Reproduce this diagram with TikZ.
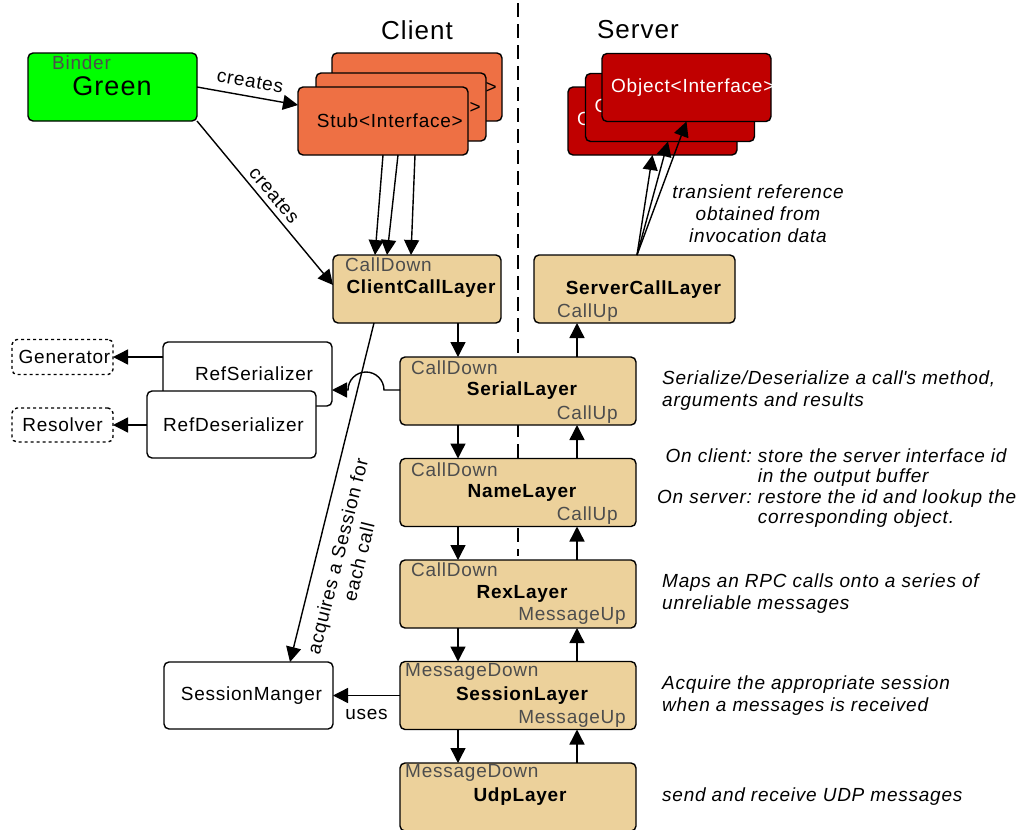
\documentclass[tikz,border=0pt]{standalone}
\usepackage{fontspec}
\setmainfont{Liberation Sans}[LetterSpace=4]
\usetikzlibrary{arrows.meta,positioning}

\definecolor{layertan}{RGB}{236,209,155}
\definecolor{stuborange}{RGB}{238,112,68}
\definecolor{objred}{RGB}{192,0,0}
\definecolor{portgray}{RGB}{77,77,77}
\definecolor{bindergreen}{RGB}{0,255,0}

\begin{document}
\begin{tikzpicture}[x=1pt,y=1pt,
    box/.style={draw,line width=1.4pt,rounded corners=5pt,inner sep=0pt,outer sep=0pt,minimum height=68pt},
    layer/.style={box,fill=layertan,minimum width=236pt},
    stub/.style={box,fill=stuborange,minimum width=170pt},
    obj/.style={box,fill=objred,minimum width=169pt},
    plainbox/.style={box,fill=white,minimum width=169pt,font=\fontsize{19}{22}\selectfont},
    helper/.style={box,dashed,fill=white,minimum width=101pt,minimum height=35pt,font=\fontsize{19}{22}\selectfont},
    port/.style={text=portgray,font=\fontsize{19}{22}\selectfont,inner sep=0pt},
    lname/.style={font=\fontsize{19}{22}\selectfont\bfseries,inner sep=0pt},
    txt/.style={font=\fontsize{19}{22}\selectfont,inner sep=0pt},
    title/.style={font=\fontsize{26}{30}\selectfont,inner sep=0pt},
    desc/.style={font=\fontsize{19}{22}\selectfont\itshape,align=left,inner sep=0pt},
    arr/.style={line width=1.4pt,-{Triangle[length=15pt,width=15pt]}},
    node distance=33.5pt,
  ]

    \useasboundingbox (0,0) rectangle (1021,-830);

    \draw[line width=1.4pt,dash pattern=on 14pt off 7pt] (518,-3) -- (518,-556);

    \node[title] (client) at (417,-30) {Client};
    \node[title] (server) at (638,-30) {Server};

    \node[box,fill=bindergreen,minimum width=169pt] (green) at (112.5,-87) {};
    \node[port,anchor=west] (binder) at (52,-63) {Binder};
    \node[title,font=\fontsize{27}{30}\selectfont] (greentxt) at (112,-86) {Green};

    \node[stub] (stub3) at (417,-87) {};
    \node[txt,anchor=east] (stub3txt) at ([xshift=-5pt]stub3.east) {Stub<Interface>};
    \node[stub] (stub2) at (401,-107) {};
    \node[txt,anchor=east] (stub2txt) at ([xshift=-5pt]stub2.east) {Stub<Interface>};
    \node[stub] (stub1) at (383,-121) {};
    \node[txt,anchor=east] (stub1txt) at ([xshift=-5pt]stub1.east) {Stub<Interface>};

    \node[obj] (obj3) at (652.5,-121) {};
    \node[txt,text=white,anchor=west] (obj3txt) at ([xshift=9pt]obj3.west) {Object<Interface>};
    \node[obj] (obj2) at (670,-107.5) {};
    \node[txt,text=white,anchor=west] (obj2txt) at ([xshift=9pt]obj2.west) {Object<Interface>};
    \node[obj] (obj1) at (686.5,-87.5) {};
    \node[txt,text=white,anchor=west] (obj1txt) at ([xshift=9pt]obj1.west) {Object<Interface>};

    \node[layer,minimum width=168pt] (ccl) at (417,-289) {};
    \node[port,anchor=west] (ccldown) at ([xshift=12pt,yshift=-10pt]ccl.north west) {CallDown};
    \node[lname] (ccltxt) at ([xshift=4pt]ccl.center) {ClientCallLayer};

    \node[layer,minimum width=201pt] (scl) at (634.5,-289) {};
    \node[lname] (scltxt) at ([xshift=9pt,yshift=-1pt]scl.center) {ServerCallLayer};
    \node[port,anchor=west] (sclup) at ([xshift=23pt,yshift=10pt]scl.south west) {CallUp};

    \node[layer] (serial) at (518,-391) {};
    \node[port,anchor=west] (serialdown) at ([xshift=11pt,yshift=-11pt]serial.north west) {CallDown};
    \node[lname] (serialtxt) at ([xshift=4pt]serial.center) {SerialLayer};
    \node[port,anchor=east] (serialup) at ([xshift=-18pt,yshift=10pt]serial.south east) {CallUp};

    \node[layer,below=of serial] (name) {};
    \node[port,anchor=west] (namedown) at ([xshift=11pt,yshift=-11pt]name.north west) {CallDown};
    \node[lname] (nametxt) at ([xshift=4pt]name.center) {NameLayer};
    \node[port,anchor=east] (nameup) at ([xshift=-18pt,yshift=11pt]name.south east) {CallUp};

    \node[layer,below=of name] (rex) {};
    \node[port,anchor=west] (rexdown) at ([xshift=11pt,yshift=-10pt]rex.north west) {CallDown};
    \node[lname] (rextxt) at ([xshift=4pt]rex.center) {RexLayer};
    \node[port,anchor=east] (rexup) at ([xshift=-10pt,yshift=12pt]rex.south east) {MessageUp};

    \node[layer,below=of rex] (session) {};
    \node[port,anchor=west] (sessiondown) at ([xshift=5pt,yshift=-10pt]session.north west) {MessageDown};
    \node[lname] (sessiontxt) at ([xshift=4pt]session.center) {SessionLayer};
    \node[port,anchor=east] (sessionup) at ([xshift=-10pt,yshift=11pt]session.south east) {MessageUp};

    \node[layer,below=of session] (udp) {};
    \node[port,anchor=west] (udpdown) at ([xshift=5pt,yshift=-10pt]udp.north west) {MessageDown};
    \node[lname] (udptxt) at ([xshift=2pt]udp.center) {UdpLayer};

    \node[plainbox,minimum height=64pt] (rser) at (247.5,-374) {\hspace*{13pt}RefSerializer};
    \node[plainbox,minimum height=67pt] (rdes) at (231.5,-424.5) {\hspace*{4pt}RefDeserializer};
    \node[helper] (gen) at (62.5,-357) {\hspace*{4pt}Generator};
    \node[helper,minimum height=34pt] (res) at (62.5,-425) {Resolver};
    \node[plainbox,minimum height=67pt] (sm) at (248.5,-695.5) {\hspace*{6pt}SessionManger};

    \coordinate (dn) at (458,0);
    \coordinate (up) at (577,0);

    \draw[arr] (ccl.south -| dn) -- (serial.north -| dn);
    \draw[arr] (serial.south -| dn) -- (name.north -| dn);
    \draw[arr] (name.south -| dn) -- (rex.north -| dn);
    \draw[arr] (rex.south -| dn) -- (session.north -| dn);
    \draw[arr] (session.south -| dn) -- (udp.north -| dn);

    \draw[arr] (udp.north -| up) -- (session.south -| up);
    \draw[arr] (session.north -| up) -- (rex.south -| up);
    \draw[arr] (rex.north -| up) -- (name.south -| up);
    \draw[arr] (name.north -| up) -- (serial.south -| up);
    \draw[arr] (serial.north -| up) -- (scl.south -| up);

    \draw[arr] (stub1.south) -- ([xshift=-42pt]ccl.north);
    \draw[arr] ([xshift=15pt]stub1.south) -- ([xshift=-30pt]ccl.north);
    \draw[arr] ([xshift=32pt]stub1.south) -- ([xshift=-6pt]ccl.north);

    \draw[arr] ([xshift=2.5pt]scl.north) -- (obj3.south);
    \draw[arr] ([xshift=2.5pt]scl.north) -- ([xshift=-2pt]obj2.south);
    \draw[arr] ([xshift=2.5pt]scl.north) -- (obj1.south);

    \draw[arr] (green.east) -- node[txt,sloped,above=8pt] (creates1) {creates} ([yshift=16pt]stub1.west);
    \draw[arr] (green.south east) -- node[txt,sloped,above=5pt,pos=0.5] (creates2) {creates} ([yshift=4pt]ccl.west);

    \draw[arr] ([xshift=-43pt]ccl.south) -- ([xshift=41.5pt]sm.north);
    \node[txt,rotate=76,align=center] (acquires) at (348,-559) {acquires a Session for\\each call};

    \draw[arr] (session.west) -- node[txt,below=13pt] (uses) {uses} (sm.east);

    \draw[arr] ([yshift=1pt]serial.west) -- ++(-16pt,0) arc[start angle=0,end angle=180,radius=18pt] -- ([yshift=-16pt]rser.east);
    \draw[arr] (rser.west |- gen.east) -- (gen.east);
    \draw[arr] (rdes.west |- res.east) -- (res.east);

    \node[desc,align=center] (transient) at (758,-214) {transient reference\\obtained from\\invocation data};

    \node[desc,right=26pt of serial] (serialdesc) {Serialize/Deserialize a call\textquotesingle s method,\\arguments and results};
    \node[desc,anchor=west,font=\fontsize{19}{20.5}\selectfont\itshape] (namedesc) at (657,-489)
    {\begin{tabular}{@{}r@{\hspace{6pt}}l@{}}
        On client: & store the server interface id\\
                   & in the output buffer\\
        On server: & restore the id and lookup the\\
                   & corresponding object.
      \end{tabular}};
    \node[desc,right=26pt of rex] (rexdesc) {Maps an RPC calls onto a series of\\unreliable messages};
    \node[desc,right=26pt of session] (sessiondesc) {Acquire the appropriate session\\when a messages is received};
    \node[desc,right=26pt of udp] (udpdesc) {send and receive UDP messages};

  \end{tikzpicture}
\end{document}
